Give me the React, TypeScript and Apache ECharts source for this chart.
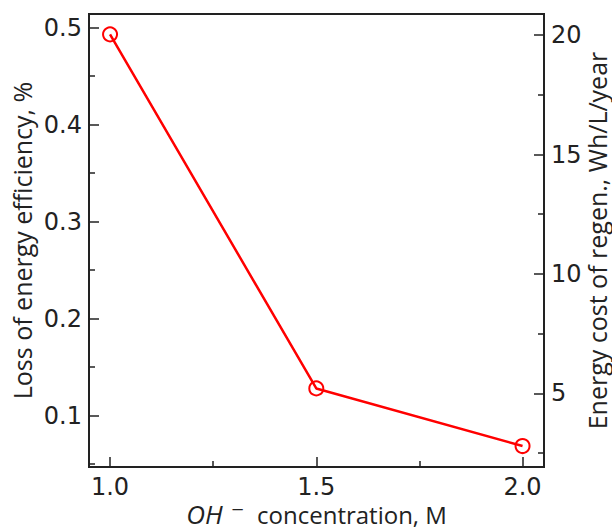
import React, { useEffect, useRef } from "react";
import * as echarts from "echarts";

// OH- concentration (M) vs. loss of energy efficiency (%)
const concentration = [1.0, 1.5, 2.0];
const efficiencyLoss = [0.493, 0.128, 0.0686];

// axis ranges (left: %, right: Wh/L/year, x: M)
const xRange = [0.949, 2.052];
const leftRange = [0.047, 0.514];
const rightRange = [1.91, 20.89];

const xMajor = [1.0, 1.5, 2.0];
const xMinor = [1.25, 1.75];
const leftMajor = [0.1, 0.2, 0.3, 0.4, 0.5];
const leftMinor = [0.05, 0.15, 0.25, 0.35, 0.45];
const rightMajor = [5, 10, 15, 20];
const rightMinor = [2.5, 7.5, 12.5, 17.5];

const INK = "#222";
const TICK_FONT = "DejaVu Sans";
const NAME_FONT = "Open Sans";

export default function App() {
  const ref = useRef<HTMLDivElement>(null);

  useEffect(() => {
    if (!ref.current) return;
    const chart = echarts.init(ref.current, null, { renderer: "svg" });

    const tickLabel = {
      color: INK,
      fontFamily: TICK_FONT,
      fontSize: 24,
    };

    // an unlabelled companion axis that only carries the short minor ticks
    const minorAxis = (range: number[], values: number[], position: string) => ({
      type: "value",
      min: range[0],
      max: range[1],
      position,
      splitLine: { show: false },
      axisLine: { show: false, onZero: false },
      axisTick: {
        show: true,
        inside: true,
        length: 6,
        customValues: values,
        lineStyle: { color: INK, width: 1.5 },
      },
      axisLabel: { show: false },
    });

    chart.setOption({
      animation: false,
      backgroundColor: "#fff",
      grid: {
        left: 89,
        top: 14,
        right: 68,
        bottom: 62,
        outerBoundsMode: "none",
        containLabel: false,
        show: true,
        borderColor: INK,
        borderWidth: 2,
      },
      xAxis: [
        {
          type: "value",
          min: xRange[0],
          max: xRange[1],
          position: "bottom",
          splitLine: { show: false },
          axisLine: { show: true, onZero: false, lineStyle: { color: INK, width: 2 } },
          axisTick: {
            show: true,
            inside: true,
            length: 10,
            customValues: xMajor,
            lineStyle: { color: INK, width: 1.5 },
          },
          axisLabel: {
            ...tickLabel,
            margin: 8,
            customValues: xMajor,
            formatter: (v: number) => v.toFixed(1),
          },
          name: "{it|OH}{sup| ⁻}{rest|  concentration, M}",
          nameLocation: "middle",
          nameGap: 34,
          nameMoveOverlap: false,
          nameTextStyle: {
            color: INK,
            rich: {
              it: { fontFamily: NAME_FONT, fontStyle: "italic", fontSize: 26, color: INK },
              sup: { fontFamily: TICK_FONT, fontSize: 26, color: INK },
              rest: { fontFamily: NAME_FONT, fontSize: 24, color: INK },
            },
          },
        },
        minorAxis(xRange, xMinor, "bottom"),
      ],
      yAxis: [
        {
          type: "value",
          min: leftRange[0],
          max: leftRange[1],
          position: "left",
          splitLine: { show: false },
          axisLine: { show: true, onZero: false, lineStyle: { color: INK, width: 2 } },
          axisTick: {
            show: true,
            inside: true,
            length: 10,
            customValues: leftMajor,
            lineStyle: { color: INK, width: 1.5 },
          },
          axisLabel: {
            ...tickLabel,
            margin: 7,
            customValues: leftMajor,
            formatter: (v: number) => v.toFixed(1),
          },
          name: "Loss of energy efficiency, %",
          nameLocation: "middle",
          nameRotate: 90,
          nameGap: 55,
          nameMoveOverlap: false,
          nameTextStyle: { color: INK, fontFamily: NAME_FONT, fontSize: 25 },
        },
        {
          type: "value",
          min: rightRange[0],
          max: rightRange[1],
          position: "right",
          splitLine: { show: false },
          axisLine: { show: true, onZero: false, lineStyle: { color: INK, width: 2 } },
          axisTick: {
            show: true,
            inside: true,
            length: 10,
            customValues: rightMajor,
            lineStyle: { color: INK, width: 1.5 },
          },
          axisLabel: {
            ...tickLabel,
            margin: 7,
            customValues: rightMajor,
            formatter: (v: number) => String(v),
          },
          name: "Energy cost of regen., Wh/L/year",
          nameLocation: "middle",
          nameRotate: 90,
          nameGap: 40,
          nameMoveOverlap: false,
          nameTextStyle: { color: INK, fontFamily: NAME_FONT, fontSize: 25 },
        },
        minorAxis(leftRange, leftMinor, "left"),
        minorAxis(rightRange, rightMinor, "right"),
      ],
      series: [
        {
          type: "line",
          xAxisIndex: 0,
          yAxisIndex: 0,
          data: concentration.map((c, i) => [c, efficiencyLoss[i]]),
          symbol: "circle",
          symbolSize: 14,
          showSymbol: true,
          lineStyle: { color: "#ff0000", width: 2.5 },
          itemStyle: { color: "rgba(255,255,255,0)", borderColor: "#ff0000", borderWidth: 2 },
        },
      ],
    });

    return () => chart.dispose();
  }, []);

  return (
    <div
      ref={ref}
      style={{ position: "absolute", left: 0, top: 0, width: 612, height: 529 }}
    />
  );
}
